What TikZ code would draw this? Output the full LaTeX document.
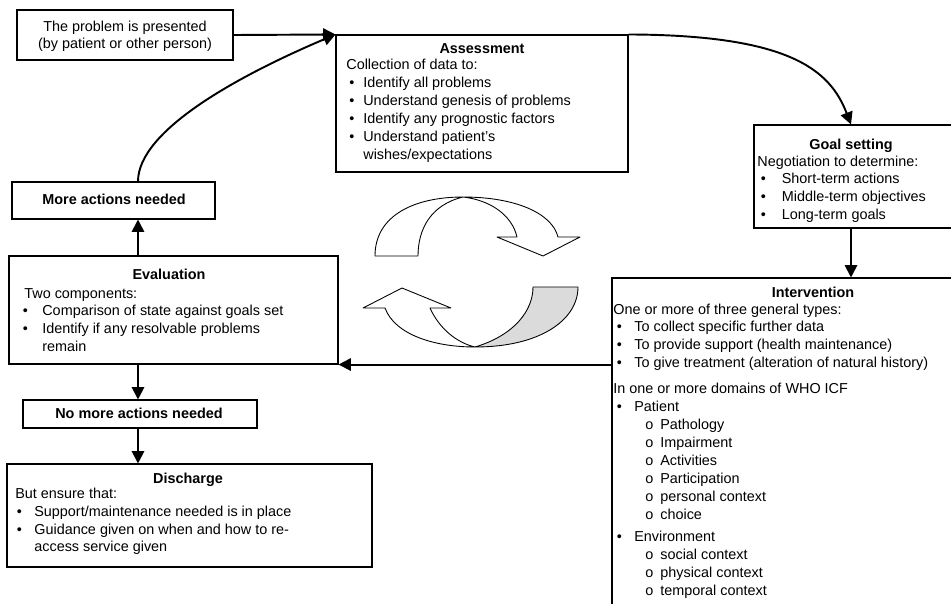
\documentclass[tikz,border=0pt]{standalone}
\usepackage{fontspec}
\setmainfont{Liberation Sans}
\usetikzlibrary{fit,arrows.meta}

\newcommand{\dfont}{\fontsize{8.2pt}{10pt}\selectfont}
% bullet set in a box of fixed width, so that item texts line up
\newcommand{\bl}[1]{\makebox[#1][l]{\textbullet}}
\newcommand{\ob}[1]{\makebox[#1][l]{o}}

\tikzset{
  frame/.style={draw=black, line width=0.6pt, inner sep=0pt},
  ln/.style={inner sep=0pt, anchor=base west, font=\dfont},
  cl/.style={inner sep=0pt, anchor=base, font=\dfont},
  ttl/.style={inner sep=0pt, anchor=base, font=\dfont\bfseries},
  flow/.style={line width=1.1pt, -{Triangle[length=7pt,width=7pt]}},
  cyc/.style={draw=black, line width=0.5pt, line join=round},
}

\begin{document}
\begin{tikzpicture}[x=0.02cm, y=-0.02cm]
\useasboundingbox (0,0) rectangle (951,603);
\clip (0,0) rectangle (951,603);
\fill[white] (0,0) rectangle (951,603);

% ---------- boxes ----------
\node[frame, fit={(17,10) (233,60)}]    (start)  {};
\node[frame, fit={(336,35) (628,172)}]  (assess) {};
\node[frame, fit={(754,125) (962,228)}] (goal)   {};
\node[frame, fit={(612,278) (1014,640)}] (interv) {};
\node[frame, fit={(12,182) (215,219)}]  (more)   {};
\node[frame, fit={(9,256) (338,364)}]   (eval)   {};
\node[frame, fit={(23,400) (257,428)}]  (nomore) {};
\node[frame, fit={(7,464) (372,567)}]   (disch)  {};
\coordinate (spine) at (138,0);

% ---------- texts ----------
\node[cl] (st-1) at (125,31) {The problem is presented};
\node[cl] (st-2) at (125,48) {(by patient or other person)};

\node[ttl] (as-t) at (482,53) {Assessment};
\node[ln]  (as-0) at (346,69) {Collection of data to:};
\foreach \i/\y/\t in {1/83/Identify all problems,
                      2/101/Understand genesis of problems,
                      3/119/Identify any prognostic factors,
                      4/137/Understand patient's}
  \node[ln] (as-\i) at (349,\y+4) {\bl{0.28cm}\t};
\node[ln] (as-5) at (363,159) {{wishes/expectations}};

\node[ttl] (go-t) at (851,149) {Goal setting};
\node[ln]  (go-0) at (757,166) {Negotiation to determine:};
\foreach \i/\y/\t in {1/179/Short-term actions,
                      2/197/Middle-term objectives,
                      3/215/Long-term goals}
  \node[ln] (go-\i) at (760.5,\y+4) {\bl{0.42cm}\t};

\node[ttl] (in-t) at (813,297) {Intervention};
\node[ln]  (in-0) at (613,314) {One or more of three general types:};
\foreach \i/\y/\t in {1/327/To collect specific further data,
                      2/345/To provide support (health maintenance),
                      3/363/To give treatment (alteration of natural history)}
  \node[ln] (in-\i) at (616.5,\y+4) {\bl{0.35cm}\t};
\node[ln]  (in-4) at (613,393) {In one or more domains of WHO ICF};
\node[ln]  (in-p) at (616.5,411) {\bl{0.35cm}Patient};
\foreach \i/\y/\t in {1/425/Pathology, 2/443/Impairment, 3/461/Activities,
                      4/479/Participation, 5/497/personal context, 6/515/choice}
  \node[ln] (in-p\i) at (645,\y+4) {\ob{0.3cm}\t};
\node[ln]  (in-e) at (616.5,541) {\bl{0.35cm}Environment};
\foreach \i/\y/\t in {1/555/social context, 2/573/physical context,
                      3/591/temporal context}
  \node[ln] (in-e\i) at (645,\y+4) {\ob{0.3cm}\t};

\node[ttl] (mo-t) at (114,204.5) {More actions needed};

\node[ttl] (ev-t) at (169,279) {Evaluation};
\node[ln]  (ev-0) at (24,298) {Two components:};
\node[ln]  (ev-1) at (22.5,315) {\bl{0.39cm}Comparison of state against goals set};
\node[ln]  (ev-2) at (22.5,333) {\bl{0.39cm}Identify if any resolvable problems};
\node[ln]  (ev-3) at (42,351) {remain};

\node[ttl] (no-t) at (139,418.5) {No more actions needed};

\node[ttl] (di-t) at (188,483) {Discharge};
\node[ln]  (di-0) at (15,498) {But ensure that:};
\node[ln]  (di-1) at (16.5,516) {\bl{0.35cm}{Support/maintenance needed is in place}};
\node[ln]  (di-2) at (16.5,534) {\bl{0.35cm}Guidance given on when and how to re-};
\node[ln]  (di-3) at (34,551) {access service given};

% ---------- connectors ----------
\draw[flow] (start.east) -- (assess.north west);
\draw[flow] (more.north -| spine) .. controls (138,130) and (240,75) .. (assess.north west);
\draw[flow] (assess.north east) .. controls (790,35) and (830,70) .. (go-t.north |- goal.north);
\draw[flow] (go-t.north |- goal.south) -- (go-t.north |- interv.north);
\draw[flow] (eval.south east -| interv.west) -- (eval.south east);
\draw[flow] (eval.north -| spine) -- (more.south -| spine);
\draw[flow] (eval.south -| spine) -- (nomore.north -| spine);
\draw[flow] (nomore.south -| spine) -- (disch.north -| spine);

% ---------- cycle of two ribbon arrows ----------
% upper ribbon, turning over at its top and pointing down
\path[cyc, fill=white]
  (375,256) .. controls (375,215) and (415,197) .. (463,197)
            .. controls (515,197) and (552,213) .. (558,237)
  -- (580,237) -- (543,256) -- (497,237) -- (517,237)
            .. controls (512,215) and (490,200) .. (463,197)
            .. controls (430,205) and (418,230) .. (418,256)
  -- cycle;
% lower ribbon: shaded back face on the right
\path[cyc, fill=gray!28]
  (475,347) .. controls (540,347) and (578,320) .. (578,287)
  -- (533,287) .. controls (533,310) and (515,335) .. (475,347) -- cycle;
% lower ribbon: front face with the head pointing up
\path[cyc, fill=white]
  (363,308) -- (402,288) -- (451,308) -- (430,308)
            .. controls (440,330) and (458,343) .. (475,347)
            .. controls (435,347) and (395,335) .. (385,308)
  -- cycle;
\end{tikzpicture}
\end{document}
